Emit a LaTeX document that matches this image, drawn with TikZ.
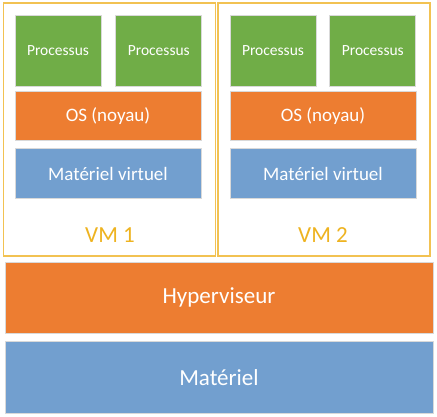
\documentclass[tikz,border=0pt]{standalone}
\usepackage{fontspec}
\setmainfont{Carlito}
\usetikzlibrary{positioning}
\definecolor{ProcGreen}{HTML}{70AD47}
\definecolor{KernelOrange}{HTML}{ED7D31}
\definecolor{HwBlue}{HTML}{729FCF}
\definecolor{VmGold}{HTML}{F2C252}
\definecolor{VmText}{HTML}{EEB320}
\definecolor{EdgeGrey}{HTML}{D9D9D9}

\begin{document}
\begin{tikzpicture}[x=1pt, y=-1pt,
				layer/.style={draw=EdgeGrey, line width=0.8pt, inner sep=0pt,
					text=white, align=center},
				proc/.style={layer, fill=ProcGreen, minimum width=86pt, minimum height=71pt,
					font=\fontsize{15.5}{18}\selectfont},
				kernel/.style={layer, fill=KernelOrange, minimum width=186pt, minimum height=49pt,
					font=\fontsize{19}{22}\selectfont},
				vhw/.style={layer, fill=HwBlue, minimum width=186pt, minimum height=50pt,
					font=\fontsize{19}{22}\selectfont},
				base/.style={layer, minimum width=428pt, minimum height=71pt,
					font=\fontsize{23}{26}\selectfont},
				vmframe/.style={draw=VmGold, line width=1.3pt, fill=white,
					minimum width=212pt, minimum height=253pt, inner sep=0pt},
				vmlabel/.style={text=VmText, anchor=base, font=\fontsize{23}{26}\selectfont}
				]
				\useasboundingbox (0,0) rectangle (437,417);
				% machines virtuelles
				\node[vmframe] (vm1) at (109.5,129.5) {};
				\node[vmframe] (vm2) at (324,129.5) {};
				\node[proc] (p11) at (58,50.5) {Processus};
				\node[proc, right=14pt of p11] (p12) {Processus};
				\node[kernel, below=5pt of p11.south west, anchor=north west] (os1) {OS (noyau)};
				\node[vhw, below=7pt of os1] (mv1) {Matériel virtuel};
				\node[vmlabel] (l1) at (110,243) {VM 1};
				\node[proc] (p21) at (273,50.5) {Processus};
				\node[proc, right=13pt of p21] (p22) {Processus};
				\node[kernel, below=5pt of p21.south west, anchor=north west] (os2) {OS (noyau)};
				\node[vhw, below=7pt of os2] (mv2) {Matériel virtuel};
				\node[vmlabel] (l2) at (323,243) {VM 2};
				% couches du bas
				\node[base, fill=KernelOrange] (hyp) at (219,297.5) {Hyperviseur};
				\node[base, fill=HwBlue, minimum height=72pt, below=8pt of hyp] (hw) {Matériel};
			\end{tikzpicture}
\end{document}
